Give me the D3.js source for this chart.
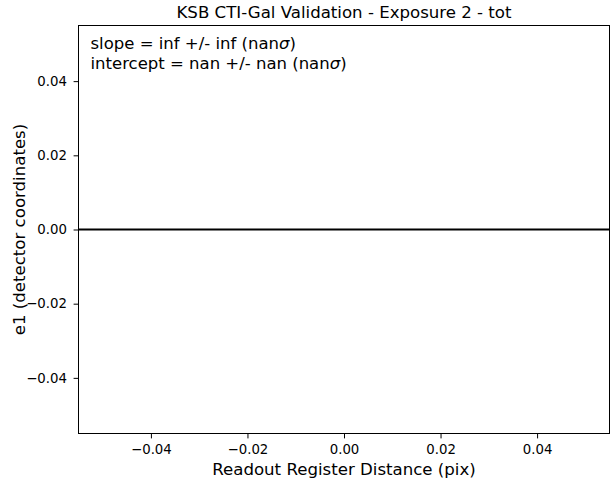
<!DOCTYPE html>
<html><head><meta charset="utf-8">
<script src="https://cdn.jsdelivr.net/npm/d3@7"></script>
<style>body{margin:0;background:#fff}text{font-family:"DejaVu Sans",sans-serif;fill:#000}</style>
</head><body>
<svg id="c" width="614" height="482"></svg>
<script>
const xTicks = [-0.04, -0.02, 0.00, 0.02, 0.04];
const yTicks = [-0.04, -0.02, 0.00, 0.02, 0.04];
const xDomain = [-0.055, 0.055];
const yDomain = [-0.055, 0.055];
const hLineY = [0];
const title = "KSB CTI-Gal Validation - Exposure 2 - tot";
const xLabel = "Readout Register Distance (pix)";
const yLabel = "e1 (detector coordinates)";
const annot = [["slope = inf +/- inf (nan", ")"], ["intercept = nan +/- nan (nan", ")"]];

const svg = d3.select("#c");
const m = {l: 78.5, r: 609.5, t: 25.5, b: 433.5};
const x = d3.scaleLinear().domain(xDomain).range([m.l, m.r]);
const y = d3.scaleLinear().domain(yDomain).range([m.b, m.t]);
const fmt = v => (v < 0 ? "\u2212" : "") + Math.abs(v).toFixed(2);

svg.selectAll(".hl").data(hLineY).enter().append("line")
  .attr("x1", m.l).attr("x2", m.r).attr("y1", d => y(d)).attr("y2", d => y(d))
  .attr("stroke", "#000").attr("stroke-width", 2);

const gx = svg.append("g").attr("transform", `translate(0,${m.b})`)
  .call(d3.axisBottom(x).tickValues(xTicks).tickFormat(fmt).tickSize(4.9).tickPadding(6.5));
const gy = svg.append("g").attr("transform", `translate(${m.l},0)`)
  .call(d3.axisLeft(y).tickValues(yTicks).tickFormat(fmt).tickSize(4.9).tickPadding(6.7));
[gx, gy].forEach(g => {
  g.select(".domain").remove();
  g.selectAll("line").attr("stroke", "#000").attr("stroke-width", 1);
  g.selectAll("text").attr("font-size", 13.3).attr("font-family", "DejaVu Sans").attr("fill", "#000");
});

svg.append("rect").attr("x", m.l).attr("y", m.t).attr("width", m.r - m.l).attr("height", m.b - m.t)
  .attr("fill", "none").attr("stroke", "#000").attr("stroke-width", 1);

svg.append("text").attr("x", (m.l + m.r) / 2).attr("y", 18).attr("text-anchor", "middle")
  .attr("font-size", 16.6).text(title);
svg.append("text").attr("x", (m.l + m.r) / 2).attr("y", 475).attr("text-anchor", "middle")
  .attr("font-size", 16.6).text(xLabel);
svg.append("text").attr("transform", `translate(24.5,${(m.t + m.b) / 2}) rotate(-90)`).attr("text-anchor", "middle")
  .attr("font-size", 16.6).text(yLabel);

annot.forEach((a, i) => {
  const t = svg.append("text").attr("x", 90.5).attr("y", 48.5 + i * 20).attr("font-size", 16.5);
  t.append("tspan").text(a[0]);
  t.append("tspan").attr("font-style", "italic").text("\u03c3");
  t.append("tspan").text(a[1]);
});
</script>
</body></html>
